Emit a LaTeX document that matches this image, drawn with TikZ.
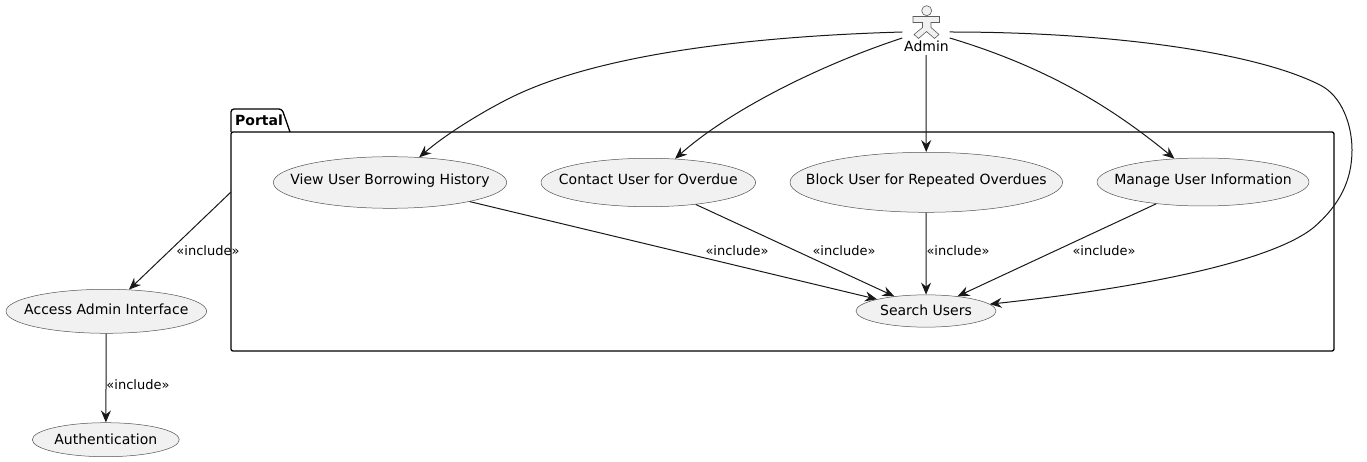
\documentclass[tikz,border=0pt]{standalone}
\usepackage{fontspec}
\setmainfont{DejaVu Sans}
\usetikzlibrary{arrows.meta,shapes.geometric}
\definecolor{ink}{HTML}{181818}
\definecolor{usefill}{HTML}{F1F1F1}
\newcommand{\uctext}[2]{\makebox[0pt][c]{\raisebox{#1pt}{#2}}}
\tikzset{
  x=1pt,y=-1pt,
  usecase/.style={ellipse,draw=ink!75,fill=usefill,line width=0.5pt,inner sep=0pt,font=\fontsize{14}{16}\selectfont,text=black,text height=10pt,text depth=0pt},
  conn/.style={draw=ink,line width=1pt,-{Stealth[length=12pt,width=10pt,inset=4pt]}},
  lbl/.style={font=\fontsize{13}{15}\selectfont,text=black,inner sep=0pt},
  pkg/.style={draw=black,line width=1.3pt,line join=round}
}
\begin{document}
\begin{tikzpicture}
\useasboundingbox (0,0) rectangle (1367,462);
% package
\draw[pkg,rounded corners=3pt] (231,132) -- (231,109) -- (282,109) -- (290,132);
\node[pkg,draw,rectangle,rounded corners=2pt,minimum width=1103pt,minimum height=219pt,inner sep=0pt] (portal) at (782.5,241.5) {};
\node[font=\bfseries\fontsize{14}{16}\selectfont,anchor=west,inner sep=0pt] (portaltitle) at (235,120.5) {Portal};
% actor
\node[draw=none,minimum width=47pt,minimum height=50pt,inner sep=0pt] (admin) at (926,30) {};
\draw[draw=ink!70,fill=usefill,line width=0.6pt] (926.7,10.7) circle (5);
\draw[draw=ink!70,fill=usefill,line width=0.6pt,line join=miter]
 (913,16.5) -- (939.5,16.5) -- (939.5,22.5) -- (931,22.5) -- (931,27.5) -- (939,34.5) -- (934.5,38.5)
 -- (926.5,31.5) -- (918.5,38.5) -- (914,34.5) -- (922.5,27.5) -- (922.5,22.5) -- (913,22.5) -- cycle;
\node[font=\fontsize{14}{16}\selectfont,inner sep=0pt] (adminlabel) at (926.5,46.5) {Admin};
% use cases
\node[usecase,minimum width=233.4pt,minimum height=51.6pt] (view) at (390,182.5) {\uctext{2.5}{View User Borrowing History}};
\node[usecase,minimum width=214.6pt,minimum height=48.4pt] (contact) at (648.3,182.5) {\uctext{2.5}{Contact User for Overdue}};
\node[usecase,minimum width=272.6pt,minimum height=60pt] (block) at (926.3,182.3) {\uctext{2.3}{Block User for Repeated Overdues}};
\node[usecase,minimum width=212pt,minimum height=48pt] (manage) at (1203,182) {\uctext{2}{Manage User Information}};
\node[usecase,minimum width=140pt,minimum height=32.3pt] (search) at (926,311) {\uctext{1}{Search Users}};
\node[usecase,minimum width=200.6pt,minimum height=44pt] (access) at (106.3,311.3) {\uctext{2}{Access Admin Interface}};
\node[usecase,minimum width=147pt,minimum height=34pt] (auth) at (105.8,439.7) {\uctext{0.5}{Authentication}};
% admin connectors
\draw[conn] (admin.west |- 0,32) .. controls (730,37) and (590,58) .. (510,98) .. controls (480,113) and (445,135) .. (view);
\draw[conn] (admin.west |- 0,38) .. controls (820,65) and (730,110) .. (contact);
\draw[conn] (admin.south) -- (block);
\draw[conn] (admin.east |- 0,38) .. controls (1050,68) and (1115,110) .. (manage);
\draw[conn] (admin.east |- 0,32) .. controls (1110,32) and (1255,52) .. (1320,85)
  .. controls (1342,96) and (1352,125) .. (1352,150)
  .. controls (1352,180) and (1340,205) .. (1313,228)
  .. controls (1270,262) and (1140,288) .. (search);
% include connectors
\coordinate (portalexit) at (231,192);
\draw[conn] (portalexit) -- (access);
\draw[conn] (access) -- (auth);
\draw[conn] (view) -- (search);
\draw[conn] (contact) -- (search);
\draw[conn] (block) -- (search);
\draw[conn] (manage) -- (search);
% labels
\node[lbl] (l1) at (208,251) {«include»};
\node[lbl] (l2) at (737,251) {«include»};
\node[lbl] (l3) at (844,251) {«include»};
\node[lbl] (l4) at (958,251) {«include»};
\node[lbl] (l5) at (1104,251) {«include»};
\node[lbl] (l6) at (138,385) {«include»};
\end{tikzpicture}
\end{document}
